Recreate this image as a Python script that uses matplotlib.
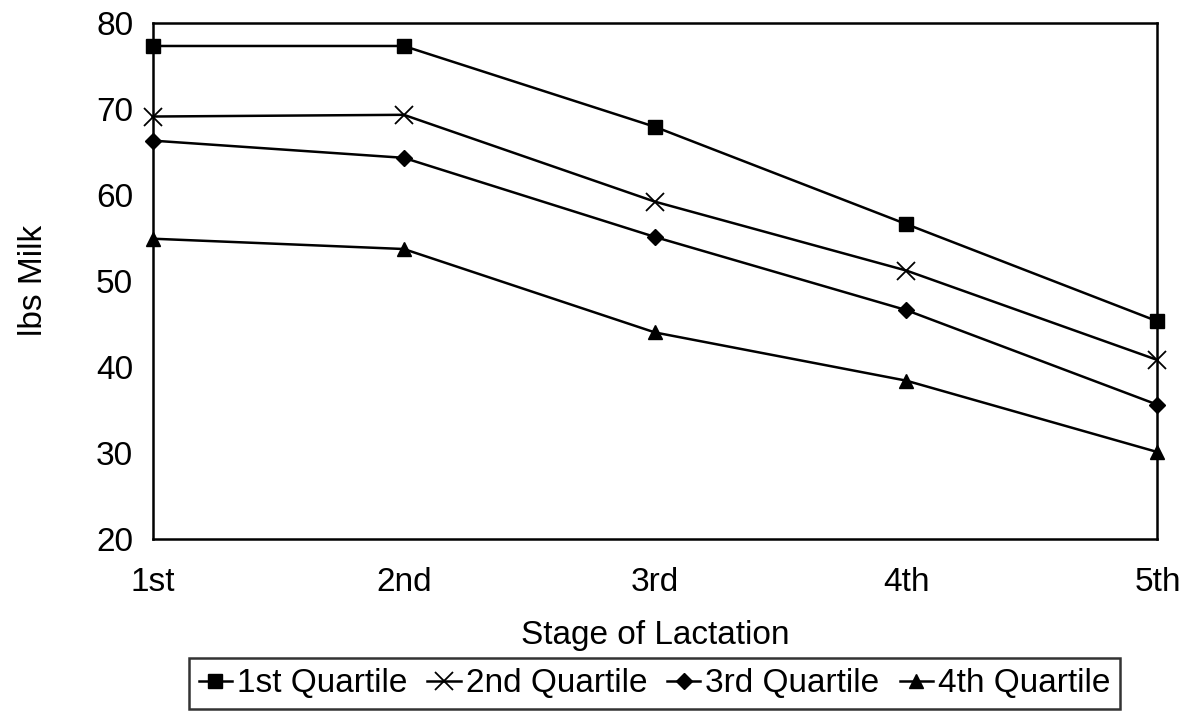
import numpy as np
import matplotlib.pyplot as plt

plt.rcParams['font.family'] = ['Liberation Sans', 'DejaVu Sans']

# stages of lactation and milk yield per quartile
stages = ['1st', '2nd', '3rd', '4th', '5th']
q1 = [77.3, 77.3, 67.9, 56.6, 45.3]
q2 = [69.1, 69.3, 59.2, 51.2, 40.8]
q3 = [66.3, 64.3, 55.1, 46.6, 35.6]
q4 = [54.9, 53.7, 44.0, 38.4, 30.1]
labels = ['1st Quartile', '2nd Quartile', '3rd Quartile', '4th Quartile']
yticks = [20, 30, 40, 50, 60, 70, 80]

fig = plt.figure(figsize=(11.92, 7.11), dpi=100)
ax = fig.add_axes([0.128, 0.242, 0.843, 0.726])

x = np.arange(len(stages))
ax.plot(x, q1, color='black', lw=1.8, marker='s', ms=10, label=labels[0], clip_on=False)
ax.plot(x, q2, color='black', lw=1.8, marker='x', ms=13, mew=1.3, label=labels[1], clip_on=False)
ax.plot(x, q3, color='black', lw=1.8, marker='D', ms=8, label=labels[2], clip_on=False)
ax.plot(x, q4, color='black', lw=1.8, marker='^', ms=10, label=labels[3], clip_on=False)

ax.set_xlim(0, 4)
ax.set_ylim(20, 80)
ax.set_xticks(x)
ax.set_xticklabels(stages)
ax.set_yticks(yticks)
ax.tick_params(axis='x', length=0, labelsize=24, pad=20)
ax.tick_params(axis='y', length=0, labelsize=24, pad=14)
for s in ax.spines.values():
    s.set_linewidth(1.8)

ax.set_xlabel('Stage of Lactation', fontsize=24, labelpad=16)
ax.set_ylabel('lbs Milk', fontsize=24, labelpad=34)

h, l = ax.get_legend_handles_labels()
leg = fig.legend(h, l, loc='center', bbox_to_anchor=(0.549, 0.038), ncol=4, fontsize=24,
                 frameon=True, fancybox=False, edgecolor='black', handlelength=1.0,
                 handletextpad=0.15, columnspacing=0.6, borderpad=0.3, borderaxespad=0)
leg.get_frame().set_linewidth(1.8)

fig.savefig('out.png', dpi=100)
